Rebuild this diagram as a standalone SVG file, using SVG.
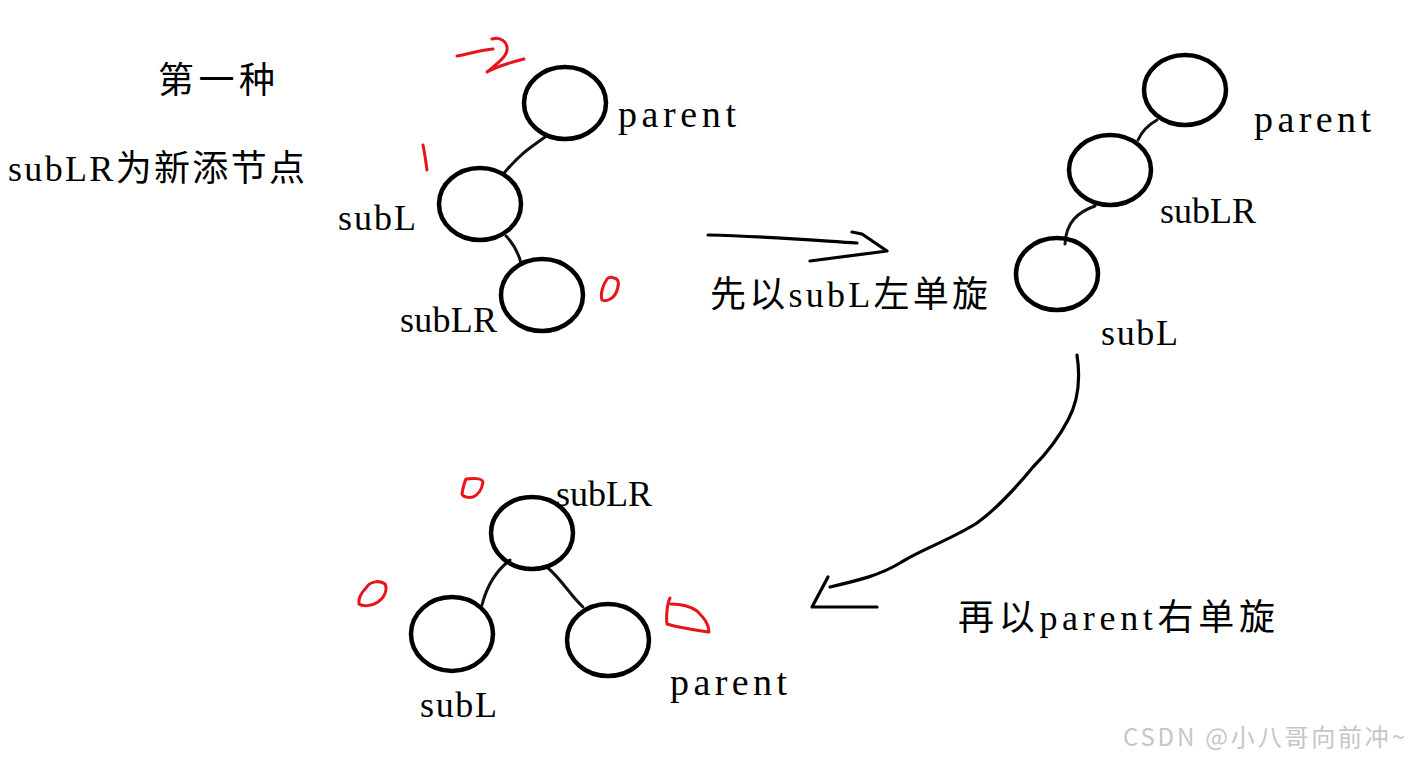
<svg xmlns="http://www.w3.org/2000/svg" width="1411" height="762" viewBox="0 0 1411 762">
<style>
.n{fill:none;stroke:#000;stroke-width:4.5}
.e{fill:none;stroke:#111;stroke-width:3;stroke-linecap:round}
.a{fill:none;stroke:#000;stroke-width:3.2;stroke-linecap:round;stroke-linejoin:round}
.r{fill:none;stroke:#e8141c;stroke-width:3;stroke-linecap:round;stroke-linejoin:round}
text{font-family:"Liberation Serif","Noto Sans CJK SC",serif;font-size:36px;fill:#000}
.p{font-size:38px}
.w{font-family:"Noto Sans CJK SC","Liberation Sans",sans-serif;font-size:24px;fill:#c6c6c6}
</style>
<rect width="1411" height="762" fill="#fff"/>
<g id="titles">
<text x="158" y="93" textLength="117" lengthAdjust="spacing">第一种</text>
<text x="8" y="181" textLength="297" lengthAdjust="spacing">subLR为新添节点</text>
<text x="710" y="307" textLength="278" lengthAdjust="spacing">先以subL左单旋</text>
<text x="958" y="630" textLength="317" lengthAdjust="spacing">再以parent右单旋</text>
</g>
<g id="connectors">
<path class="e" d="M545,137 C530,148 522,152 505,172"/>
<path class="e" d="M506,236 C513,243 518,252 521,263"/>
<path class="e" d="M1157,120 C1148,125 1142,131 1138,140"/>
<path class="e" d="M1095,206 C1078,212 1066,222 1065,244"/>
<path class="e" d="M510,560 C497,570 487,585 482,605"/>
<path class="e" d="M548,568 C562,580 570,595 583,607"/>
<path class="a" d="M708,235 C760,236 810,240 857,243"/>
<path class="a" d="M852,232 L862,234 L887,251 L810,261"/>
<path class="a" d="M1077,355 C1080,375 1079,400 1068,420 C1055,445 1040,460 1033,467 C1010,495 995,510 977,523 C950,540 920,550 900,563 C880,575 860,580 830,587"/>
<path class="a" d="M828,577 L812,607 L877,607"/>
</g>
<g id="node-parent-1">
<ellipse class="n" cx="565" cy="103" rx="41" ry="36"/>
<text class="p" x="618" y="127" textLength="118" lengthAdjust="spacing">parent</text>
</g>
<g id="node-subL-1">
<ellipse class="n" cx="480" cy="204" rx="41" ry="36"/>
<text x="338" y="230" textLength="78" lengthAdjust="spacing">subL</text>
</g>
<g id="node-subLR-1">
<ellipse class="n" cx="542" cy="295" rx="41" ry="36"/>
<text x="400" y="332" textLength="97" lengthAdjust="spacing">subLR</text>
</g>
<g id="node-parent-2">
<ellipse class="n" cx="1185" cy="90" rx="41" ry="35"/>
<text class="p" x="1254" y="132" textLength="117" lengthAdjust="spacing">parent</text>
</g>
<g id="node-subLR-2">
<ellipse class="n" cx="1110" cy="170" rx="41" ry="35"/>
<text x="1160" y="223" textLength="96" lengthAdjust="spacing">subLR</text>
</g>
<g id="node-subL-2">
<ellipse class="n" cx="1057" cy="274" rx="41" ry="36"/>
<text x="1101" y="345" textLength="77" lengthAdjust="spacing">subL</text>
</g>
<g id="node-subLR-3">
<ellipse class="n" cx="532" cy="533" rx="41" ry="36"/>
<text x="556" y="506" textLength="96" lengthAdjust="spacing">subLR</text>
</g>
<g id="node-subL-3">
<ellipse class="n" cx="452" cy="634" rx="41" ry="37"/>
<text x="420" y="717" textLength="77" lengthAdjust="spacing">subL</text>
</g>
<g id="node-parent-3">
<ellipse class="n" cx="608" cy="640" rx="41" ry="36"/>
<text class="p" x="670" y="695" textLength="117" lengthAdjust="spacing">parent</text>
</g>
<g id="red-marks">
<path class="r" d="M457,56 C470,54 480,50 493,49"/>
<path class="r" d="M492,39 C500,36 508,42 507,50 C506,58 495,65 487,72 C498,66 512,62 524,59"/>
<path class="r" d="M423,145 C425,155 426,163 427,170"/>
<path class="r" d="M614,278 C620,279 619,286 616,293 C613,299 606,302 602,300 C600,294 603,285 607,279 C609,277 612,277 614,278"/>
<path class="r" d="M466,479 C472,478 482,478 483,482 C482,489 478,495 473,497 C468,498 463,497 462,494 C463,488 464,483 466,479"/>
<path class="r" d="M366,588 C370,581 380,580 385,584 C388,590 384,598 378,602 C372,606 363,607 359,604 C358,597 362,592 366,588"/>
<path class="r" d="M670,598 C667,604 666,618 667,624 C680,628 695,630 709,632 C709,624 704,618 697,611 C690,606 680,604 671,604"/>
</g>
<text class="w" x="1123" y="746" textLength="282" lengthAdjust="spacing">CSDN @小八哥向前冲~</text>
</svg>
